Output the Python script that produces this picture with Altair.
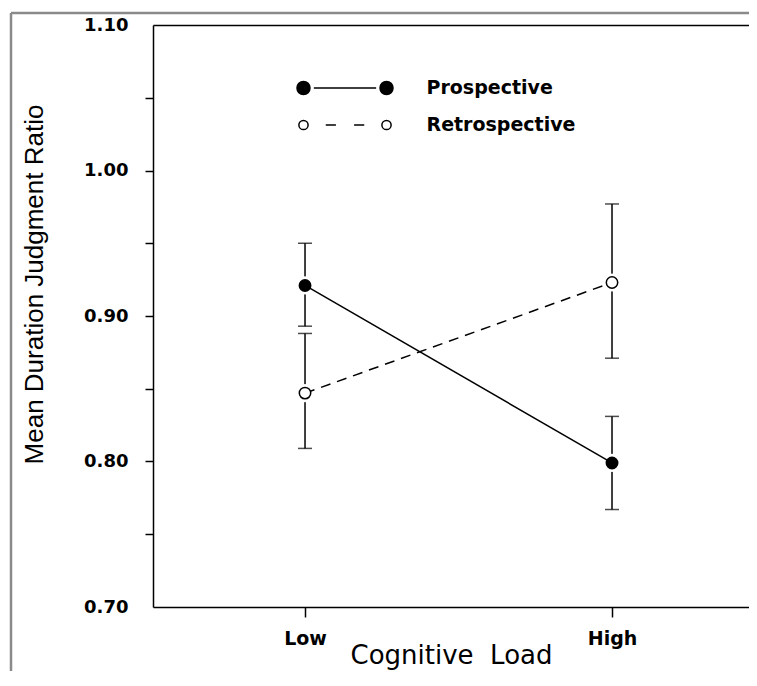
import altair as alt
import pandas as pd

# ---- data ----
loads = ["Low", "High"]
series = ["Prospective", "Retrospective"]
prospective_mean = [0.921, 0.799]
prospective_lo = [0.893, 0.767]
prospective_hi = [0.950, 0.831]
retrospective_mean = [0.847, 0.923]
retrospective_lo = [0.809, 0.871]
retrospective_hi = [0.888, 0.977]
y_tick_values = [0.70, 0.75, 0.80, 0.85, 0.90, 0.95, 1.00, 1.05, 1.10]

rows = []
for i, ld in enumerate(loads):
    rows.append({"load": ld, "series": series[0], "mean": prospective_mean[i],
                 "lo": prospective_lo[i], "hi": prospective_hi[i]})
    rows.append({"load": ld, "series": series[1], "mean": retrospective_mean[i],
                 "lo": retrospective_lo[i], "hi": retrospective_hi[i]})
df = pd.DataFrame(rows)

W, H = 596, 582

# legend symbols: custom paths (unit = sqrt(symbolSize)/2 px)
def circ(cx, r):
    return (f"M {cx - r:.3f} 0 A {r:.3f} {r:.3f} 0 1 0 {cx + r:.3f} 0 "
            f"A {r:.3f} {r:.3f} 0 1 0 {cx - r:.3f} 0 Z ")

path_pro = circ(-5.93, 0.93) + circ(5.93, 0.93) + "M -4.45 0 L 4.45 0"
path_ret = circ(-5.93, 0.66) + circ(5.93, 0.66) + "M -2.75 0 L -1.3 0 M 1.3 0 L 2.75 0"

x_scale = alt.Scale(type="point", domain=loads, padding=0.4707, align=0.526)
y_scale = alt.Scale(domain=[0.70, 1.10], nice=False, zero=False)

y_axis = alt.Axis(
    values=y_tick_values,
    labelExpr="round(datum.value*100) % 10 == 0 ? format(datum.value, '.2f') : ''",
    tickOpacity={"condition": {"test": "datum.value < 0.71 || datum.value > 1.09", "value": 0}, "value": 1},
    tickSize=8, tickWidth=1.5, tickColor="black",
    domainColor="black", domainWidth=1.5, grid=False,
    labelFont="DejaVu Sans", labelFontWeight="bold", labelFontSize=18, labelColor="black",
    labelPadding=17, labelFlush=False, labelOverlap=False,
    title="Mean Duration Judgment Ratio", titleFont="Liberation Sans", titleFontSize=26,
    titleFontWeight="normal", titleColor="black", titleX=-111, titleY=259,
    titleBaseline="alphabetic", titleAlign="center", titleAngle=270,
)

x_axis_bottom = alt.Axis(
    orient="bottom", title="Cognitive \u00a0Load", labelAngle=0,
    tickSize=10, tickWidth=1.5, tickColor="black",
    domainColor="black", domainWidth=1.5, grid=False,
    labelFont="DejaVu Sans", labelFontWeight="bold", labelFontSize=19, labelColor="black",
    labelPadding=12,
    titleFont="DejaVu Sans", titleFontSize=26, titleFontWeight="normal", titleColor="black",
    titleY=56, titleBaseline="alphabetic",
)

x_axis_top = alt.Axis(orient="top", labels=False, ticks=False, title=None,
                      domainColor="black", domainWidth=1.5, grid=False)

legend = alt.Legend(
    orient="none", legendX=182.5, legendY=53.5, title=None, direction="vertical",
    symbolSize=196, symbolStrokeWidth=1.5, symbolStrokeColor="black",
    labelFont="DejaVu Sans", labelFontWeight="bold", labelFontSize=19, labelColor="black",
    labelOffset=72, rowPadding=17, padding=0, symbolOffset=0,
)

base = alt.Chart(df)
X = alt.X("load:N", scale=x_scale, axis=None, sort=loads)

def Y(field):
    return alt.Y(field, scale=y_scale, axis=y_axis, type="quantitative")

frame_data = alt.Data(values=[{"k": 0}])
frame_v = alt.Chart(frame_data).mark_rule(color="#8a8a8a", strokeWidth=2.5).encode(
    x=alt.value(-142), y=alt.value(-12), y2=alt.value(H + 120))
frame_h = alt.Chart(frame_data).mark_rule(color="#8a8a8a", strokeWidth=2.5).encode(
    x=alt.value(-142), x2=alt.value(W), y=alt.value(-12))

bars = base.mark_rule(strokeWidth=1.5, color="black").encode(
    x=X, y=Y("lo"), y2="hi:Q")
cap_lo = base.mark_tick(thickness=1.5, size=14, color="black").encode(x=X, y=Y("lo"))
cap_hi = base.mark_tick(thickness=1.5, size=14, color="black").encode(x=X, y=Y("hi"))
halo = base.mark_point(filled=True, shape="circle", size=330, color="white", opacity=1).encode(
    x=X, y=Y("mean"))
line_pro = base.transform_filter(alt.datum.series == series[0]).mark_line(
    strokeWidth=1.5, color="black").encode(x=X, y=Y("mean"))
line_ret = base.transform_filter(alt.datum.series == series[1]).mark_line(
    strokeWidth=1.5, color="black", strokeDash=[10, 7]).encode(x=X, y=Y("mean"))
points = base.mark_point(filled=True, shape="circle", size=130, stroke="black", strokeWidth=1.5, opacity=1).encode(
    x=alt.X("load:N", scale=x_scale, axis=x_axis_bottom, sort=loads),
    y=Y("mean"),
    fill=alt.condition("datum.series == 'Prospective'", alt.value("black"), alt.value("white")))
legend_layer = base.mark_point(filled=True, strokeWidth=1.5, opacity=1).encode(
    x=alt.X("load:N", scale=x_scale, axis=x_axis_top, sort=loads),
    y=Y("mean"),
    size=alt.value(0),
    fill=alt.Fill("series:N", scale=alt.Scale(domain=series, range=["black", "white"]), legend=legend),
    stroke=alt.Stroke("series:N", scale=alt.Scale(domain=series, range=["black", "black"]), legend=legend),
    shape=alt.Shape("series:N", scale=alt.Scale(domain=series, range=[path_pro, path_ret]), legend=legend),
)

chart = alt.layer(frame_v, frame_h, bars, cap_lo, cap_hi, halo, line_pro, line_ret, points, legend_layer).resolve_axis(
    x="independent"
).properties(
    width=W, height=H,
    padding={"left": 145, "top": 17, "right": 0, "bottom": 64},
    autosize=alt.AutoSizeParams(type="none"),
    background="white",
).configure_view(stroke=None)

chart.save("out.html", embed_options={"renderer": "svg", "actions": False})
